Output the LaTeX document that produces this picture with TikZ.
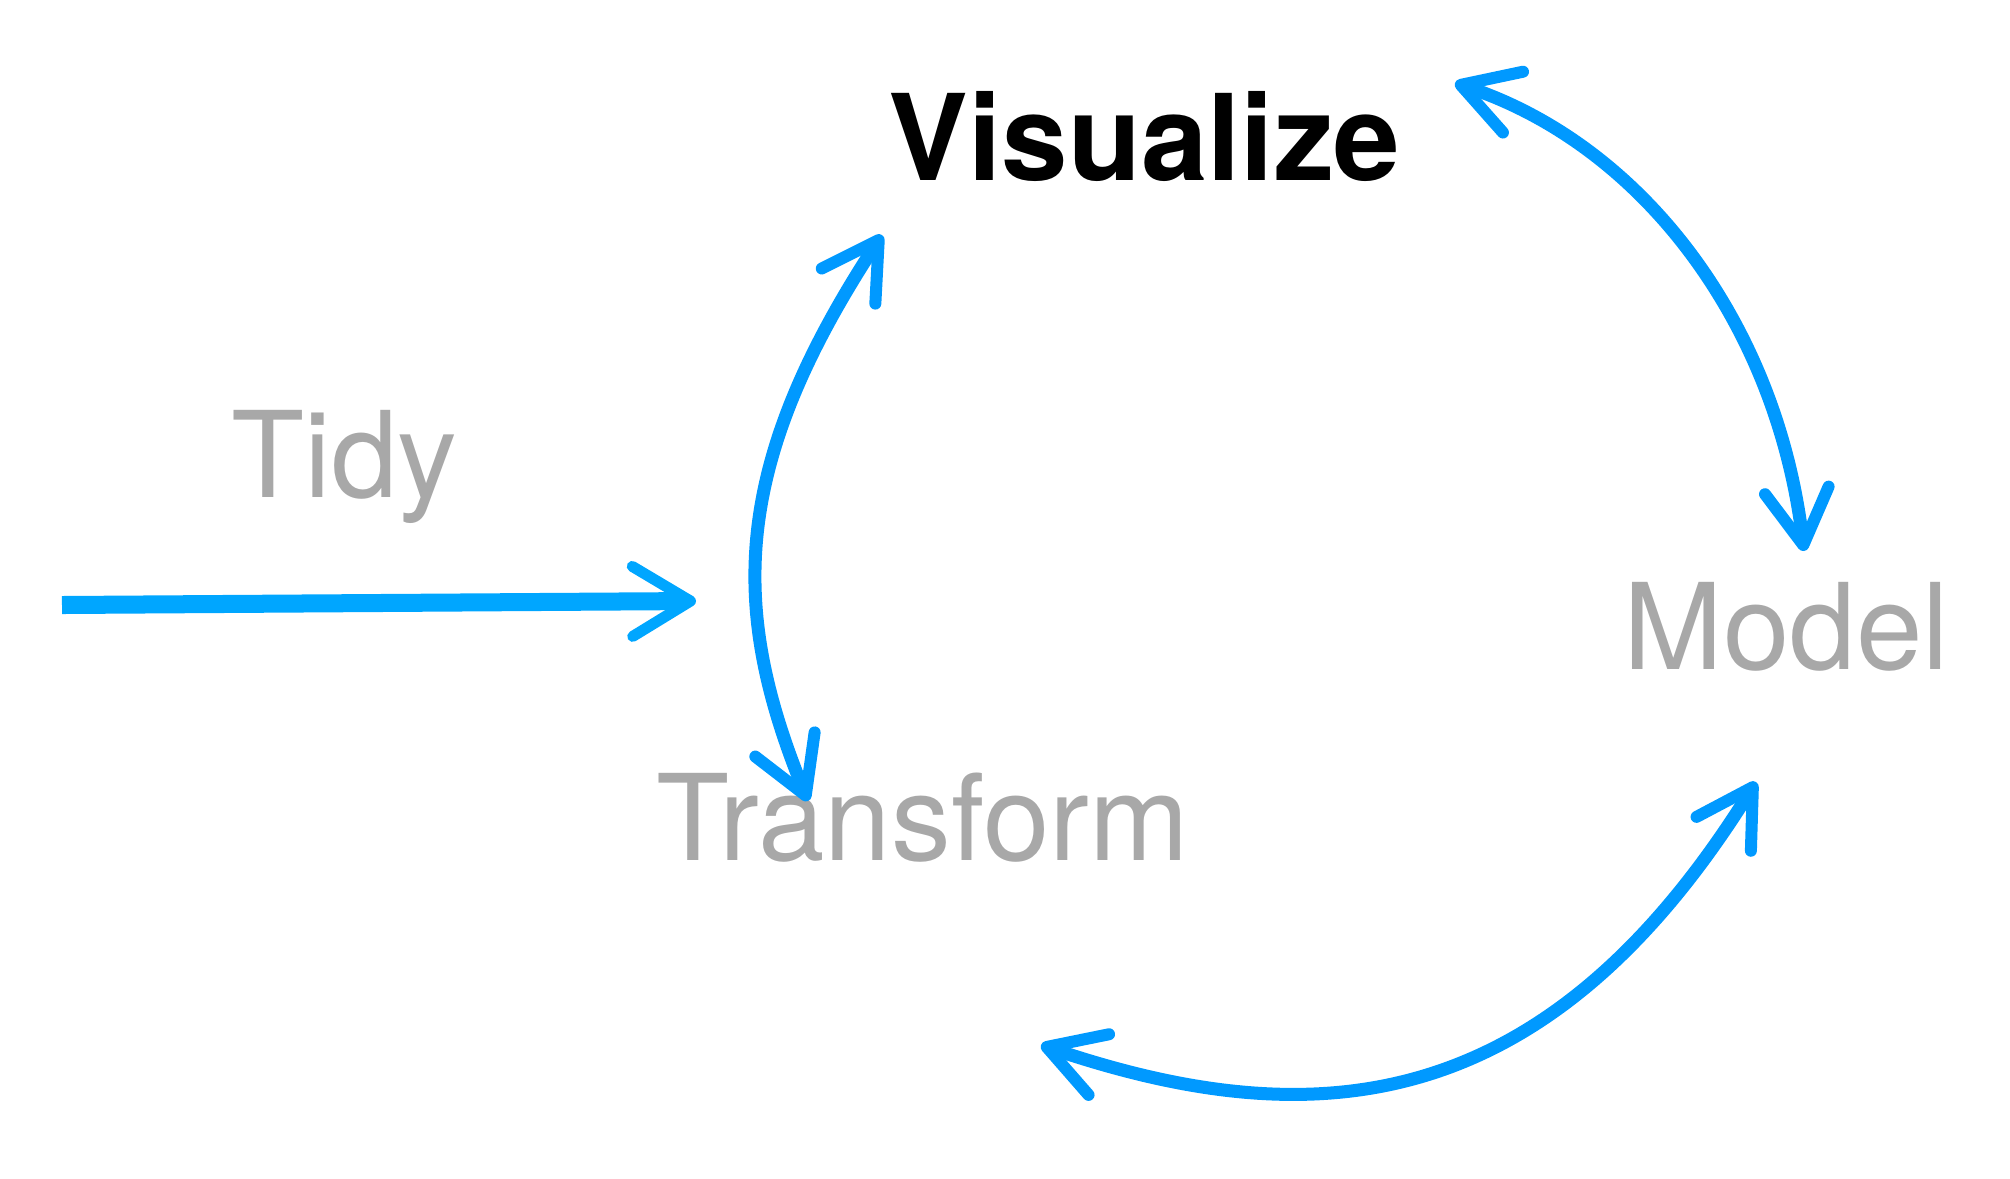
\documentclass[tikz,border=0pt]{standalone}
\usepackage{fontspec}
\setmainfont{TeX Gyre Heros}
\usetikzlibrary{arrows.meta,positioning}
\definecolor{cycleblue}{RGB}{0,153,255}
\definecolor{tidyblue}{RGB}{0,166,255}
\definecolor{labelgray}{RGB}{168,168,168}
\tikzset{
mylabel/.style={
  inner sep=0pt,
  anchor=base west,
  text=labelgray,
  font=\fontsize{34}{40}\selectfont,
  }
}
\tikzset{
mycycle/.style={
  line width=0.13cm,
  draw=cycleblue,
  line cap=round,
  {Straight Barb[length=0.55cm,width=0.64cm,line width=0.12cm,round]}-{Straight Barb[length=0.55cm,width=0.64cm,line width=0.12cm,round]}
  }
}
\tikzset{
myline/.style={
  line width=0.18cm,
  draw=tidyblue,
  -{Straight Barb[length=0.58cm,width=0.7cm,line width=0.11cm,round]}
  }
}

\begin{document}
\begin{tikzpicture}[x=0.01cm,y=-0.01cm]
    \useasboundingbox (0,0) rectangle (2010,1178);
    \node[mylabel] (tidy) at (231,497) {Tidy};
    \node[mylabel] (transform) at (656,860) {Transform};
    \node[mylabel] (model) at (1623,669) {Model};
    \node[mylabel, text=black, font=\fontsize{34}{40}\selectfont\bfseries] (visualize) at (888,180) {Visualize};
    % arrow ends
    \coordinate (start) at (62,605);
    \coordinate (trin) at (696,601);
    \coordinate (trtop) at (808,801);
    \coordinate (visleft) at (882,235);
    \coordinate (visright) at (1455,83);
    \coordinate (modtop) at (1804,551);
    \coordinate (modbot) at (1756,782);
    \coordinate (trbot) at (1041,1045);
    \draw[myline] (start) -- (trin);
    \draw[mycycle] (visleft) .. controls (728,470) and (731,612) .. (trtop);
    \draw[mycycle] (visright) .. controls (1643,145) and (1777,324) .. (modtop);
    \draw[mycycle] (modbot) .. controls (1544,1122) and (1310,1136) .. (trbot);
  \end{tikzpicture}
\end{document}
